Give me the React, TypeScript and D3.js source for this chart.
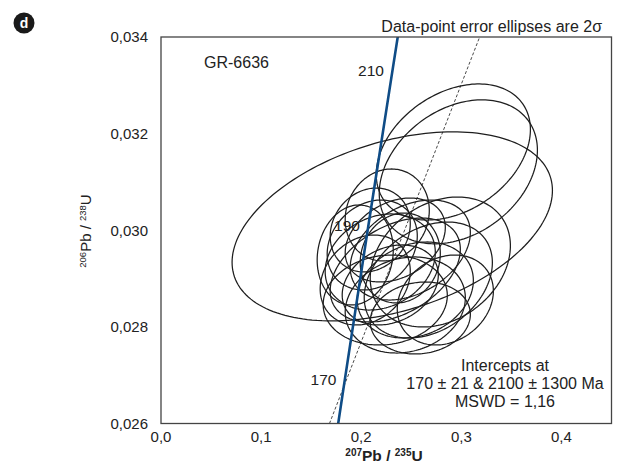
import React from "react";
import * as d3 from "d3";

// ---- data ----
// Analyses: 207Pb/235U, 2σ, 206Pb/238U, 2σ, error correlation
const spotX = [0.231, 0.292, 0.297, 0.226, 0.211, 0.234, 0.219, 0.239, 0.249, 0.204, 0.229, 0.254, 0.244, 0.224, 0.279, 0.267, 0.194, 0.284, 0.209, 0.259, 0.234];
const spotXErr = [0.160, 0.077, 0.079, 0.042, 0.045, 0.050, 0.055, 0.040, 0.060, 0.045, 0.048, 0.058, 0.060, 0.062, 0.070, 0.064, 0.038, 0.048, 0.040, 0.050, 0.065];
const spotY = [0.03008, 0.03162, 0.03121, 0.030316, 0.029695, 0.029798, 0.029343, 0.029426, 0.029591, 0.02897, 0.028867, 0.028763, 0.028453, 0.028556, 0.029343, 0.02897, 0.029488, 0.028556, 0.030005, 0.028184, 0.029177];
const spotYErr = [0.001956, 0.001408, 0.00149, 0.000952, 0.000931, 0.000869, 0.000994, 0.000931, 0.001035, 0.000931, 0.000828, 0.000994, 0.000994, 0.000931, 0.001345, 0.0012, 0.001035, 0.000931, 0.000869, 0.000745, 0.001076];
const spotRho = [0.38, 0.33, 0.30, 0.1, 0.2, 0.3, 0.2, 0.1, 0.35, 0.2, 0.25, 0.2, 0.15, 0.1, 0.25, 0.3, 0.1, 0.2, 0.15, 0.1, 0.4];

// Concordia points (Ma, 207/235, 206/238)
const concordiaAge = [165, 170, 190, 210, 216];
const concordiaX = [0.17646, 0.18226, 0.20577, 0.22976, 0.23704];
const concordiaY = [0.025926, 0.026722, 0.029913, 0.033113, 0.034075];
const labelledAges = [170, 190, 210];

// Discordia (dashed) end points
const discordiaX = [0.1683, 0.3183];
const discordiaY = [0.026, 0.034];

const xTicks = [0, 0.1, 0.2, 0.3, 0.4];
const yTicks = [0.026, 0.028, 0.03, 0.032, 0.034];

const sampleName = "GR-6636";
const noteText = "Data-point error ellipses are 2σ";
const interceptLines = ["Intercepts at", "170 ± 21 & 2100 ± 1300 Ma", "MSWD = 1,16"];

// ---- layout ----
const W = 619, H = 463;
const left = 161, right = 611.5, top = 37, bottom = 423.5;
const FONT = "'Liberation Sans', Arial, Helvetica, sans-serif";

export default function App() {
  const x = d3.scaleLinear().domain([0, 0.45]).range([left, right]);
  const y = d3.scaleLinear().domain([0.026, 0.034]).range([bottom, top]);
  const loc = d3.formatLocale({ decimal: ",", thousands: ".", grouping: [3], currency: ["", ""] });
  const fx = loc.format(".1f");
  const fy = loc.format(".3f");

  const ts = d3.range(0, 2 * Math.PI, Math.PI / 90);
  const ellLine = d3.line<[number, number]>().x((d) => x(d[0])).y((d) => y(d[1])).curve(d3.curveLinearClosed);
  const ellipses = spotX.map((cx, i) => {
    const a = spotXErr[i], b = spotYErr[i], r = spotRho[i];
    const s = Math.sqrt(1 - r * r);
    const pts: [number, number][] = ts.map((t) => [cx + a * Math.cos(t), spotY[i] + b * (r * Math.cos(t) + s * Math.sin(t))]);
    return ellLine(pts) || "";
  });

  const straight = d3.line<[number, number]>().x((d) => x(d[0])).y((d) => y(d[1]));
  const concordia = straight(concordiaX.map((v, i) => [v, concordiaY[i]] as [number, number])) || "";
  const discordia = straight(discordiaX.map((v, i) => [v, discordiaY[i]] as [number, number])) || "";

  return (
    <svg width={W} height={H} style={{ position: "absolute", left: 0, top: 0, background: "#fff" }} fontFamily={FONT}>
      <defs>
        <clipPath id="plot">
          <rect x={left} y={top} width={right - left} height={bottom - top} />
        </clipPath>
      </defs>

      {/* panel badge */}
      <circle cx={24} cy={23} r={10.5} fill="#1a1a1a" />
      <text x={24} y={23} dy="0.35em" textAnchor="middle" fill="#fff" fontWeight="bold" fontSize={14}>d</text>

      {/* note */}
      <text x={602} y={32} textAnchor="end" fontSize={16} fill="#222">{noteText}</text>

      {/* age labels */}
      {labelledAges.map((age) => {
        const i = concordiaAge.indexOf(age);
        return (
          <text key={age} x={x(concordiaX[i]) - 20} y={y(concordiaY[i]) - 9} dy="0.35em" textAnchor="middle" fontSize={15.5} fill="#222">
            {age}
          </text>
        );
      })}

      <g clipPath="url(#plot)">
        <path d={discordia} fill="none" stroke="#333" strokeWidth={0.9} strokeDasharray="3,2" />
        {ellipses.map((d, i) => (
          <path key={i} d={d} fill="none" stroke="#1e1e1e" strokeWidth={1.25} />
        ))}
        <path d={concordia} fill="none" stroke="#0f4c86" strokeWidth={2.6} />
      </g>

      {/* frame */}
      <rect x={left} y={top} width={right - left} height={bottom - top} fill="none" stroke="#444" strokeWidth={1.3} />

      {/* sample name */}
      <text x={204} y={62} dy="0.35em" fontSize={16} fill="#222">{sampleName}</text>

      {/* y tick labels */}
      {yTicks.map((t) => (
        <text key={t} x={148} y={y(t)} dy="0.35em" textAnchor="end" fontSize={15} fill="#222">{fy(t)}</text>
      ))}
      {/* x tick labels */}
      {xTicks.map((t) => (
        <text key={t} x={x(t)} y={437} dy="0.35em" textAnchor="middle" fontSize={15} fill="#222">{fx(t)}</text>
      ))}

      {/* x axis title */}
      <text x={384} y={461} textAnchor="middle" fontWeight="bold" fontSize={15.5} fill="#222">
        <tspan fontSize={10} dy="-5">207</tspan>
        <tspan dy="5">Pb / </tspan>
        <tspan fontSize={10} dy="-5">235</tspan>
        <tspan dy="5">U</tspan>
      </text>

      {/* y axis title */}
      <text transform={`translate(91,231) rotate(-90)`} textAnchor="middle" fontSize={15} fill="#222">
        <tspan fontSize={9.5} dy="-5">206</tspan>
        <tspan dy="5">Pb / </tspan>
        <tspan fontSize={9.5} dy="-5">238</tspan>
        <tspan dy="5">U</tspan>
      </text>

      {/* intercept text */}
      {interceptLines.map((l, i) => (
        <text key={i} x={505} y={365 + i * 18.3} dy="0.35em" textAnchor="middle" fontSize={16} fill="#222">{l}</text>
      ))}
    </svg>
  );
}
